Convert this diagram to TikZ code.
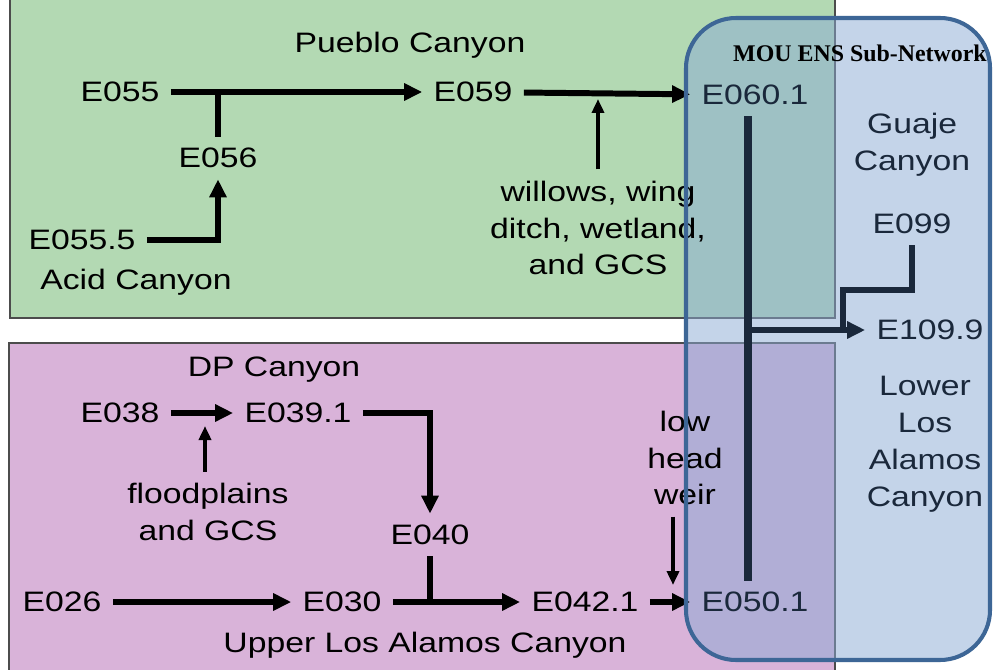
\documentclass[tikz,border=0pt]{standalone}
\usepackage{fontspec}
\setmainfont[FakeStretch=1.2]{Liberation Sans}
\newfontfamily\moufont{Liberation Serif}
\usetikzlibrary{arrows.meta}

\definecolor{pueblobg}{HTML}{B3D9B3}
\definecolor{alamosbg}{HTML}{D9B3D9}
\definecolor{mouedge}{HTML}{3D6696}
\definecolor{moufill}{HTML}{8BABD5}
\definecolor{navy}{HTML}{1A283B}

\begin{document}
\begin{tikzpicture}[
    x=0.02cm, y=-0.02cm,
    lbl/.style={inner sep=0pt, outer sep=6.5pt, align=center, font=\fontsize{16}{21}\selectfont},
    sublbl/.style={lbl, text=navy},
    region/.style={draw=gray!60!black, line width=0.6pt},
    flow/.style={-{Triangle[length=3.6mm, width=3.3mm]}, line width=3.4pt},
    stem/.style={line width=3.4pt},
    thinflow/.style={-{Triangle[length=2.8mm, width=2.4mm]}, line width=2pt},
    spineline/.style={navy, line width=4pt},
    navyflow/.style={flow, navy}
]
\fill[white] (0,0) rectangle (993,669);
\useasboundingbox (0,0) rectangle (993,669);

% canyon regions
\draw[region, fill=pueblobg] (10,-5) rectangle (835,318);
\draw[region, fill=alamosbg] (9,343) rectangle (835,675);
\fill[moufill, fill opacity=0.5, rounded corners=1cm] (686,18) rectangle (990,660);

% Pueblo Canyon
\node[lbl] (pueblo) at (410,45) {Pueblo Canyon};
\node[lbl] (e055) at (120,92) {E055};
\node[lbl] (e059) at (473,92) {E059};
\node[lbl] (e056) at (218,158) {E056};
\node[lbl] (e0555) at (82,240) {E055.5};
\node[lbl] (acid) at (136,282) {Acid Canyon};
\node[lbl] (willows) at (598,228) {willows, wing\\ditch, wetland,\\and GCS};

% Los Alamos / DP Canyon
\node[lbl] (dp) at (274,370) {DP Canyon};
\node[lbl] (e038) at (120,413) {E038};
\node[lbl] (e039) at (298,413) {E039.1};
\node[lbl] (flood) at (208,512) {floodplains\\and GCS};
\node[lbl] (e040) at (430,535) {E040};
\node[lbl] (e026) at (62,602) {E026};
\node[lbl] (e030) at (342,602) {E030};
\node[lbl] (e042) at (585,602) {E042.1};
\node[lbl] (weir) at (685,458) {low\\head\\weir};
\node[lbl] (upper) at (425,645) {Upper Los Alamos Canyon};

% sub-network
\node[inner sep=0pt, font=\moufont\bfseries\fontsize{13.6}{16}\selectfont] (mou) at (860,53) {MOU ENS Sub-Network};
\node[sublbl] (e060) at (755,95) {E060.1};
\node[sublbl] (guaje) at (912,145) {Guaje\\Canyon};
\node[sublbl] (e099) at (912,224) {E099};
\node[sublbl] (e109) at (930,330) {E109.9};
\node[sublbl] (lower) at (925,444) {Lower\\Los\\Alamos\\Canyon};
\node[sublbl] (e050) at (755,602) {E050.1};

\coordinate (spine) at (748,0);
\coordinate (j99) at (843,290);
\coordinate (wtip) at (598,99);
\coordinate (ftip) at (205,426);
\coordinate (wrtip) at (673,585);

\draw[flow] (e055) -- (e059);
\draw[stem] (e056.north) -- (e056.north |- e055);
\draw[flow] (e0555.east) -| (e056.south);
\draw[flow] (e059) -- (e060);
\draw[thinflow] (willows.north) -- (wtip);

\draw[flow] (e038) -- (e039);
\draw[thinflow] (flood.north -| ftip) -- (ftip);
\draw[flow] (e039.east) -| (e040.north);
\draw[flow] (e026) -- (e030);
\draw[flow] (e030) -- (e042);
\draw[stem] (e040.south) -- (e040.south |- e030);
\draw[flow] (e042) -- (e050);
\draw[thinflow] (weir.south -| wrtip) -- (wrtip);

\draw[spineline] (e060.south -| spine) -- (e050.north -| spine);
\draw[navyflow] (e109.west -| spine) -- (e109.west);
\draw[navy, line width=3.4pt] (e099.south) |- (j99) -- (j99 |- e109.west);

\draw[mouedge, line width=2.3pt, rounded corners=1cm] (686,18) rectangle (990,660);
\end{tikzpicture}
\end{document}
